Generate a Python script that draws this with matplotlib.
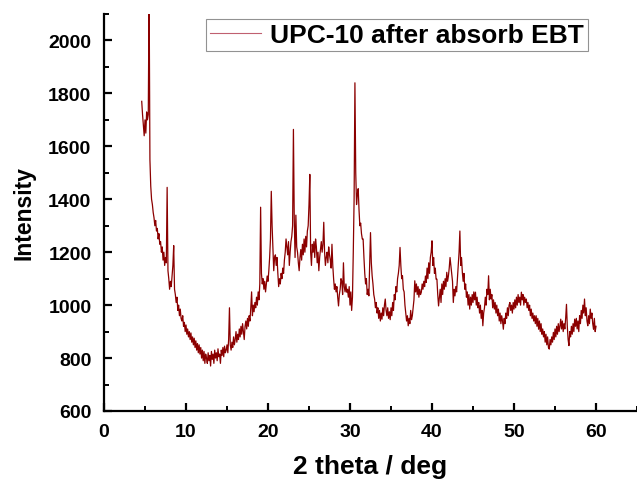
import numpy as np
import matplotlib
matplotlib.use("Agg")
import matplotlib.pyplot as plt
from matplotlib.ticker import MultipleLocator

plt.rcParams['font.family'] = ['Liberation Sans', 'DejaVu Sans']

# 2-theta sampling grid (deg)
theta_start = 4.6
theta_step = 0.1

# Intensity values, one per grid step (rows = 1 deg)
intensity = [
    1770, 1720, 1680, 1640, 1700, 1650, 1730, 1700, 1720, 2200,   # 4.6-5.5
    1550, 1450, 1400, 1380, 1350, 1330, 1300, 1320, 1280, 1290,   # 5.6
    1250, 1270, 1230, 1240, 1200, 1220, 1170, 1200, 1150, 1180,   # 6.6
    1160, 1445, 1130, 1100, 1060, 1090, 1070, 1110, 1150, 1225,   # 7.6
    1060, 1040, 1010, 1030, 980, 1000, 960, 985, 950, 940,        # 8.6
    960, 920, 935, 900, 925, 890, 910, 880, 900, 870,             # 9.6
    895, 860, 880, 850, 875, 840, 865, 830, 855, 820,             # 10.6
    850, 815, 840, 800, 830, 790, 825, 780, 815, 800,             # 11.6
    780, 820, 790, 810, 770, 825, 795, 815, 780, 830,             # 12.6
    800, 820, 790, 835, 805, 815, 780, 830, 810, 840,             # 13.6
    805, 845, 820, 830, 850, 820, 870, 990, 850, 830,             # 14.6
    860, 840, 880, 850, 870, 900, 860, 890, 870, 910,             # 15.6
    880, 920, 890, 930, 900, 870, 920, 940, 910, 950,             # 16.6
    920, 960, 940, 990, 1050, 960, 1000, 975, 1010, 990,          # 17.6
    1030, 1000, 1050, 1020, 1080, 1370, 1120, 1080, 1100, 1060,   # 18.6
    1090, 1050, 1080, 1110, 1090, 1130, 1180, 1250, 1430, 1300,   # 19.6
    1220, 1130, 1180, 1190, 1150, 1180, 1120, 1070, 1100, 1080,   # 20.6
    1120, 1100, 1140, 1120, 1170, 1200, 1250, 1220, 1190, 1240,   # 21.6
    1150, 1200, 1240, 1260, 1300, 1664, 1330, 1180, 1340, 1220,   # 22.6
    1200, 1160, 1130, 1180, 1210, 1170, 1230, 1190, 1250, 1200,   # 23.6
    1260, 1220, 1280, 1300, 1380, 1494, 1200, 1150, 1230, 1200,   # 24.6
    1240, 1180, 1250, 1220, 1160, 1200, 1130, 1180, 1210, 1240,   # 25.6
    1200, 1230, 1313, 1200, 1150, 1180, 1200, 1160, 1220, 1190,   # 26.6
    1170, 1140, 1230, 1150, 1100, 1060, 1080, 1050, 1070, 1030,   # 27.6
    997, 1040, 1060, 1100, 1090, 1040, 1160, 1070, 1050, 1080,    # 28.6
    1049, 1060, 1030, 1070, 1000, 1050, 980, 1030, 1200, 1400,    # 29.6
    1840, 1500, 1380, 1420, 1440, 1360, 1300, 1310, 1270, 1250,   # 30.6
    1250, 1180, 1120, 1080, 1100, 1040, 1060, 1035, 1150, 1274,   # 31.6
    1160, 1111, 1080, 1040, 1023, 990, 1010, 970, 990, 950,       # 32.6
    980, 940, 970, 947, 990, 960, 1000, 1023, 980, 960,           # 33.6
    990, 950, 975, 945, 990, 960, 1010, 980, 1040, 1020,          # 34.6
    1070, 1050, 1100, 1120, 1150, 1218, 1150, 1100, 1111, 1060,   # 35.6
    1050, 1000, 970, 940, 960, 922, 950, 930, 980, 945,           # 36.6
    960, 990, 1020, 1092, 1050, 1080, 1040, 1070, 1030, 1060,     # 37.6
    1040, 1049, 1080, 1060, 1090, 1070, 1110, 1086, 1140, 1100,   # 38.6
    1160, 1120, 1180, 1200, 1243, 1150, 1180, 1120, 1140, 1098,   # 39.6
    1098, 1040, 997, 1030, 1060, 1010, 1080, 1040, 1090, 1060,    # 40.6
    1100, 1070, 1124, 1090, 1110, 1140, 1180, 1150, 1120, 1090,   # 41.6
    1010, 1060, 1035, 1070, 1050, 1100, 1150, 1200, 1280, 1150,   # 42.6
    1180, 1124, 1090, 1120, 1060, 1080, 1030, 1050, 1000, 1040,   # 43.6
    985, 1030, 1000, 1040, 1010, 1050, 1020, 1049, 1000, 1030,    # 44.6
    990, 1010, 970, 1000, 950, 980, 922, 970, 990, 1030,          # 45.6
    1000, 1060, 1040, 1111, 1020, 1060, 1023, 1040, 990, 1020,    # 46.6
    985, 1010, 970, 1000, 960, 985, 940, 970, 930, 960,           # 47.6
    940, 909, 950, 930, 970, 950, 990, 960, 1000, 1010,           # 48.6
    980, 1000, 970, 1010, 985, 1020, 990, 1030, 1000, 1040,       # 49.6
    1010, 1030, 1000, 1049, 1020, 1040, 1000, 1030, 1010, 1023,   # 50.6
    990, 1010, 980, 1000, 960, 985, 950, 970, 940, 960,           # 51.6
    930, 960, 920, 950, 909, 940, 900, 930, 890, 910,             # 52.6
    880, 900, 860, 890, 850, 880, 840, 834, 870, 850,             # 53.6
    880, 860, 897, 870, 910, 880, 920, 890, 930, 900,             # 54.6
    920, 947, 910, 940, 900, 930, 910, 950, 1003, 920,            # 55.6
    870, 847, 900, 880, 920, 890, 930, 900, 947, 920,             # 56.6
    950, 910, 940, 900, 960, 930, 980, 950, 1000, 970,            # 57.6
    1023, 960, 990, 940, 922, 960, 930, 985, 950, 970,            # 58.6
    930, 909, 950, 900, 920,                                      # 59.6-60.0
]
two_theta = theta_start + theta_step * np.arange(len(intensity))

series_label = "UPC-10 after absorb EBT"
x_ticks = [0, 10, 20, 30, 40, 50, 60]
y_ticks = [600, 800, 1000, 1200, 1400, 1600, 1800, 2000]

fig = plt.figure(figsize=(6.37, 4.81), dpi=100)
ax = fig.add_axes([104/637, 69/481, 1 - 104/637, (412 - 15)/481])

ax.plot(two_theta, intensity, color='#8b0000', lw=0.9, label=series_label)

ax.set_xlim(0, 65)
ax.set_ylim(600, 2100)
ax.set_xticks(x_ticks)
ax.set_yticks(y_ticks)
ax.xaxis.set_minor_locator(MultipleLocator(5))
ax.yaxis.set_minor_locator(MultipleLocator(100))

for s in ['top', 'right']:
    ax.spines[s].set_visible(False)
for s in ['left', 'bottom']:
    ax.spines[s].set_linewidth(1.6)

ax.tick_params(which='major', direction='in', length=6, width=1.6,
               labelsize=14)
ax.tick_params(axis='x', which='major', pad=9)
ax.tick_params(axis='y', which='major', pad=9)
ax.tick_params(which='minor', direction='in', length=3.5, width=1.4)
for lbl in ax.get_xticklabels() + ax.get_yticklabels():
    lbl.set_fontweight('bold')

ax.set_xlabel("2 theta / deg", fontsize=19, fontweight='bold', labelpad=10)
ax.set_ylabel("Intensity", fontsize=16.5, fontweight='bold', labelpad=9)

leg = ax.legend(loc='upper right', bbox_to_anchor=(0.908, 0.987),
                bbox_transform=ax.transAxes, frameon=True, fancybox=False,
                prop={'weight': 'bold', 'size': 19}, handlelength=1.95,
                borderpad=0.15, handletextpad=0.35, borderaxespad=0.0)
leg.get_frame().set_edgecolor('#777777')
leg.get_frame().set_linewidth(0.8)
leg.get_lines()[0].set_color('#c06070')
leg.get_lines()[0].set_linewidth(0.8)

fig.savefig("out.png", dpi=100)
